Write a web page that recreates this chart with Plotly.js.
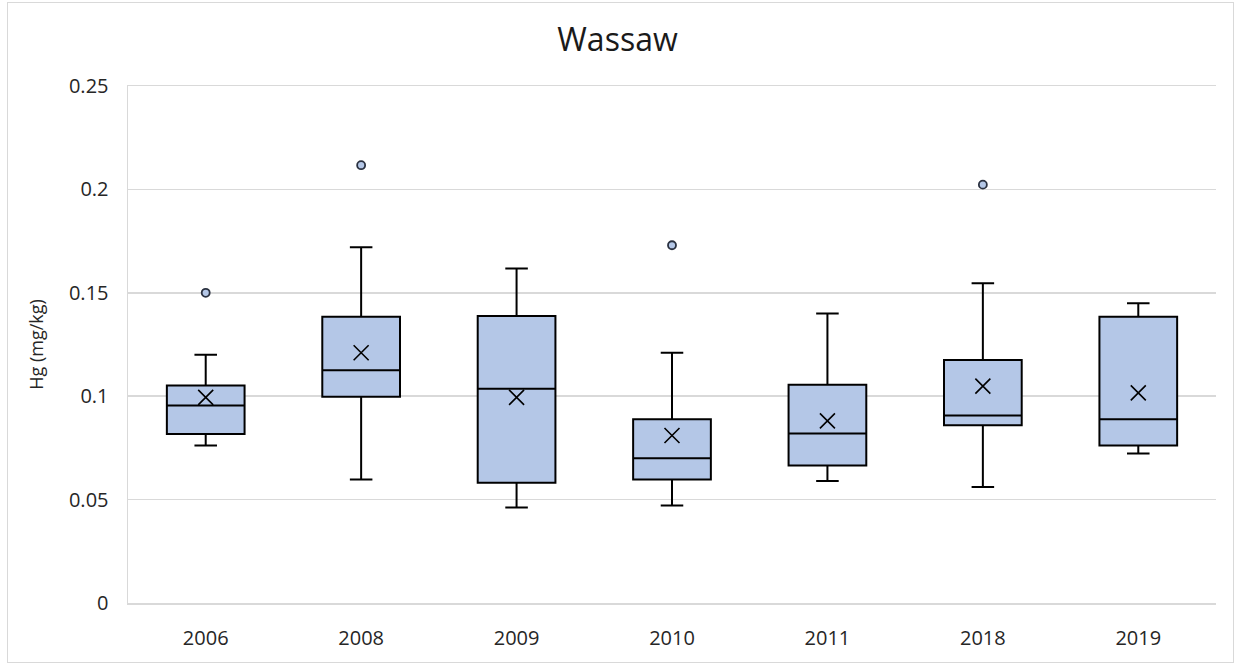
<!DOCTYPE html>
<html>
<head>
<meta charset="utf-8">
<script src="https://cdn.plot.ly/plotly-3.0.1.min.js"></script>
<style>
  html, body { margin:0; padding:0; background:#fff; }
  #wrap { position:relative; width:1235px; height:664px; }
  #chart { position:absolute; left:0; top:0; width:1235px; height:664px; }
  #frame { position:absolute; left:7px; top:2px; width:1225px; height:659px; border:1px solid #d9d9d9; pointer-events:none; }
</style>
</head>
<body>
<div id="wrap"><div id="chart"></div><div id="frame"></div></div>
<script>
const years      = ['2006', '2008', '2009', '2010', '2011', '2018', '2019'];
const lowerFence = [0.0762, 0.0597, 0.0462, 0.0471, 0.0590, 0.0561, 0.0723];
const q1         = [0.0817, 0.0997, 0.0581, 0.0597, 0.0665, 0.0859, 0.0762];
const medians    = [0.0955, 0.1126, 0.1036, 0.0700, 0.0820, 0.0907, 0.0888];
const q3         = [0.1052, 0.1384, 0.1388, 0.0888, 0.1055, 0.1175, 0.1384];
const upperFence = [0.1200, 0.1720, 0.1617, 0.1210, 0.1400, 0.1546, 0.1449];
const means      = [0.0994, 0.1210, 0.0994, 0.0810, 0.0881, 0.1049, 0.1016];
const outlierYears  = ['2006', '2008', '2010', '2018'];
const outlierValues = [0.1500, 0.2117, 0.1730, 0.2023];
const yTicks = [0, 0.05, 0.1, 0.15, 0.2, 0.25];
const yTickText = ['0', '0.05', '0.1', '0.15', '0.2', '0.25'];

const FONT = '"Open Sans", Lato, sans-serif';
const FILL = '#b4c7e7';

const traces = [
  {
    type: 'box',
    x: years,
    q1: q1,
    median: medians,
    q3: q3,
    lowerfence: lowerFence,
    upperfence: upperFence,
    boxpoints: false,
    fillcolor: FILL,
    line: { color: '#000000', width: 2 },
    whiskerwidth: 0.29,
    hoverinfo: 'skip',
    showlegend: false
  },
  {
    type: 'scatter',
    mode: 'markers',
    x: years,
    y: means,
    marker: { symbol: 'x-thin', size: 15, line: { color: '#000000', width: 1.6 } },
    hoverinfo: 'skip',
    showlegend: false
  },
  {
    type: 'scatter',
    mode: 'markers',
    x: outlierYears,
    y: outlierValues,
    marker: { symbol: 'circle', size: 8, color: FILL, line: { color: '#2a3140', width: 1.8 } },
    hoverinfo: 'skip',
    showlegend: false
  }
];

const layout = {
  width: 1235,
  height: 664,
  paper_bgcolor: 'rgba(0,0,0,0)',
  plot_bgcolor: '#ffffff',
  margin: { l: 128, r: 19, t: 86, b: 61 },
  font: { family: FONT, color: '#262626' },
  title: {
    text: 'Wassaw',
    font: { family: FONT, size: 32, color: '#1a1a1a' },
    xref: 'container', x: 0.5, xanchor: 'center',
    yref: 'container', y: 0.94, yanchor: 'middle'
  },
  boxgap: 0.5,
  boxgroupgap: 0,
  xaxis: {
    type: 'category',
    categoryorder: 'array',
    categoryarray: years,
    range: [-0.5, 6.5],
    showgrid: false,
    zeroline: false,
    showline: true,
    mirror: true,
    linecolor: '#d9d9d9',
    linewidth: 1.5,
    ticks: '',
    ticklabelstandoff: 16,
    tickfont: { family: FONT, size: 20, color: '#262626' },
    fixedrange: true
  },
  yaxis: {
    range: [0, 0.25],
    tickvals: yTicks,
    ticktext: yTickText,
    showgrid: true,
    gridcolor: '#d9d9d9',
    gridwidth: 1.5,
    zeroline: false,
    showline: true,
    linecolor: '#d9d9d9',
    linewidth: 1.5,
    ticks: '',
    ticklabelstandoff: 14,
    tickfont: { family: FONT, size: 20, color: '#262626' },
    title: { text: 'Hg (mg/kg)', font: { family: FONT, size: 18, color: '#262626' }, standoff: 20 },
    automargin: false,
    fixedrange: true
  }
};

Plotly.newPlot('chart', traces, layout, { displayModeBar: false, staticPlot: true });
</script>
</body>
</html>
